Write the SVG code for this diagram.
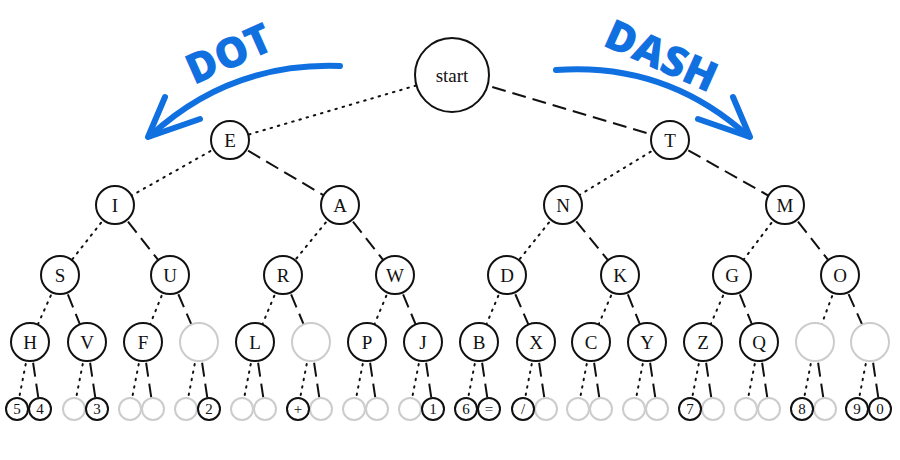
<svg xmlns="http://www.w3.org/2000/svg" width="900" height="460" viewBox="0 0 900 460">
<style>
.dot{stroke:#111;stroke-width:2;stroke-dasharray:1.5 6;stroke-linecap:round;fill:none}
.dash{stroke:#111;stroke-width:2;stroke-dasharray:14 7;fill:none}
.n{fill:#fff;stroke:#111;stroke-width:2}
.g{fill:#fff;stroke:#ccc;stroke-width:2}
text{font-family:"Liberation Serif",serif;font-size:19px;fill:#111;text-anchor:middle;dominant-baseline:central}
.s{font-size:15px}
.blue{stroke:#1170e0;stroke-width:6;fill:none;stroke-linecap:round;stroke-linejoin:round}
.lbl{font-family:"Open Sans","Liberation Sans",sans-serif;font-weight:800;font-size:42px;fill:#1170e0}
</style>
<g id="arrows">
<path class="blue" d="M340,66 Q230,62 150,136"/>
<path class="blue" d="M165,97 L148,137 L200,119"/>
<path class="blue" d="M556,70 Q666,62 748,136"/>
<path class="blue" d="M733,97 L750,137 L698,119"/>
<text class="lbl" x="228" y="52" transform="rotate(-24 228 52)">DOT</text>
<text class="lbl" x="662" y="54" transform="rotate(24 662 54)">DASH</text>
</g>
<g id="connectors">
<line class="dot" x1="452" y1="75" x2="230" y2="140"/><line class="dash" x1="452" y1="75" x2="670" y2="140"/>
<line class="dot" x1="230" y1="140" x2="115" y2="205"/><line class="dash" x1="230" y1="140" x2="340" y2="205"/>
<line class="dot" x1="670" y1="140" x2="563" y2="205"/><line class="dash" x1="670" y1="140" x2="785" y2="205"/>
<line class="dot" x1="115" y1="205" x2="60" y2="275"/><line class="dash" x1="115" y1="205" x2="170" y2="275"/>
<line class="dot" x1="340" y1="205" x2="283" y2="275"/><line class="dash" x1="340" y1="205" x2="395" y2="275"/>
<line class="dot" x1="563" y1="205" x2="507" y2="275"/><line class="dash" x1="563" y1="205" x2="620" y2="275"/>
<line class="dot" x1="785" y1="205" x2="732" y2="275"/><line class="dash" x1="785" y1="205" x2="840" y2="275"/>
<line class="dot" x1="60" y1="275" x2="30" y2="342"/><line class="dash" x1="60" y1="275" x2="87" y2="342"/>
<line class="dot" x1="170" y1="275" x2="143" y2="342"/><line class="dash" x1="170" y1="275" x2="199" y2="342"/>
<line class="dot" x1="283" y1="275" x2="255" y2="342"/><line class="dash" x1="283" y1="275" x2="311" y2="342"/>
<line class="dot" x1="395" y1="275" x2="367" y2="342"/><line class="dash" x1="395" y1="275" x2="423" y2="342"/>
<line class="dot" x1="507" y1="275" x2="479" y2="342"/><line class="dash" x1="507" y1="275" x2="536" y2="342"/>
<line class="dot" x1="620" y1="275" x2="591" y2="342"/><line class="dash" x1="620" y1="275" x2="647" y2="342"/>
<line class="dot" x1="732" y1="275" x2="703" y2="342"/><line class="dash" x1="732" y1="275" x2="759" y2="342"/>
<line class="dot" x1="840" y1="275" x2="815" y2="342"/><line class="dash" x1="840" y1="275" x2="870" y2="342"/>
<line class="dot" x1="30" y1="342" x2="17" y2="409"/><line class="dash" x1="30" y1="342" x2="40" y2="409"/>
<line class="dot" x1="87" y1="342" x2="74" y2="409"/><line class="dash" x1="87" y1="342" x2="97" y2="409"/>
<line class="dot" x1="143" y1="342" x2="130" y2="409"/><line class="dash" x1="143" y1="342" x2="153" y2="409"/>
<line class="dot" x1="199" y1="342" x2="186" y2="409"/><line class="dash" x1="199" y1="342" x2="209" y2="409"/>
<line class="dot" x1="255" y1="342" x2="242" y2="409"/><line class="dash" x1="255" y1="342" x2="265" y2="409"/>
<line class="dot" x1="311" y1="342" x2="298" y2="409"/><line class="dash" x1="311" y1="342" x2="321" y2="409"/>
<line class="dot" x1="367" y1="342" x2="354" y2="409"/><line class="dash" x1="367" y1="342" x2="377" y2="409"/>
<line class="dot" x1="423" y1="342" x2="410" y2="409"/><line class="dash" x1="423" y1="342" x2="433" y2="409"/>
<line class="dot" x1="479" y1="342" x2="466" y2="409"/><line class="dash" x1="479" y1="342" x2="489" y2="409"/>
<line class="dot" x1="536" y1="342" x2="523" y2="409"/><line class="dash" x1="536" y1="342" x2="546" y2="409"/>
<line class="dot" x1="591" y1="342" x2="578" y2="409"/><line class="dash" x1="591" y1="342" x2="601" y2="409"/>
<line class="dot" x1="647" y1="342" x2="634" y2="409"/><line class="dash" x1="647" y1="342" x2="657" y2="409"/>
<line class="dot" x1="703" y1="342" x2="690" y2="409"/><line class="dash" x1="703" y1="342" x2="713" y2="409"/>
<line class="dot" x1="759" y1="342" x2="746" y2="409"/><line class="dash" x1="759" y1="342" x2="769" y2="409"/>
<line class="dot" x1="815" y1="342" x2="802" y2="409"/><line class="dash" x1="815" y1="342" x2="825" y2="409"/>
<line class="dot" x1="870" y1="342" x2="857" y2="409"/><line class="dash" x1="870" y1="342" x2="880" y2="409"/>
</g>
<g id="start"><circle class="n" cx="452" cy="75" r="37"/><text x="452" y="75">start</text></g>
<g id="E"><circle class="n" cx="230" cy="140" r="19"/><text x="230" y="140">E</text></g>
<g id="T"><circle class="n" cx="670" cy="140" r="19"/><text x="670" y="140">T</text></g>
<g id="I"><circle class="n" cx="115" cy="205" r="19"/><text x="115" y="205">I</text></g>
<g id="A"><circle class="n" cx="340" cy="205" r="19"/><text x="340" y="205">A</text></g>
<g id="N"><circle class="n" cx="563" cy="205" r="19"/><text x="563" y="205">N</text></g>
<g id="M"><circle class="n" cx="785" cy="205" r="19"/><text x="785" y="205">M</text></g>
<g id="S"><circle class="n" cx="60" cy="275" r="19"/><text x="60" y="275">S</text></g>
<g id="U"><circle class="n" cx="170" cy="275" r="19"/><text x="170" y="275">U</text></g>
<g id="R"><circle class="n" cx="283" cy="275" r="19"/><text x="283" y="275">R</text></g>
<g id="W"><circle class="n" cx="395" cy="275" r="19"/><text x="395" y="275">W</text></g>
<g id="D"><circle class="n" cx="507" cy="275" r="19"/><text x="507" y="275">D</text></g>
<g id="K"><circle class="n" cx="620" cy="275" r="19"/><text x="620" y="275">K</text></g>
<g id="G"><circle class="n" cx="732" cy="275" r="19"/><text x="732" y="275">G</text></g>
<g id="O"><circle class="n" cx="840" cy="275" r="19"/><text x="840" y="275">O</text></g>
<g id="H"><circle class="n" cx="30" cy="342" r="19"/><text x="30" y="342">H</text></g>
<g id="V"><circle class="n" cx="87" cy="342" r="19"/><text x="87" y="342">V</text></g>
<g id="F"><circle class="n" cx="143" cy="342" r="19"/><text x="143" y="342">F</text></g>
<g id="UU"><circle class="g" cx="199" cy="342" r="19"/></g>
<g id="L"><circle class="n" cx="255" cy="342" r="19"/><text x="255" y="342">L</text></g>
<g id="RU"><circle class="g" cx="311" cy="342" r="19"/></g>
<g id="P"><circle class="n" cx="367" cy="342" r="19"/><text x="367" y="342">P</text></g>
<g id="J"><circle class="n" cx="423" cy="342" r="19"/><text x="423" y="342">J</text></g>
<g id="B"><circle class="n" cx="479" cy="342" r="19"/><text x="479" y="342">B</text></g>
<g id="X"><circle class="n" cx="536" cy="342" r="19"/><text x="536" y="342">X</text></g>
<g id="C"><circle class="n" cx="591" cy="342" r="19"/><text x="591" y="342">C</text></g>
<g id="Y"><circle class="n" cx="647" cy="342" r="19"/><text x="647" y="342">Y</text></g>
<g id="Z"><circle class="n" cx="703" cy="342" r="19"/><text x="703" y="342">Z</text></g>
<g id="Q"><circle class="n" cx="759" cy="342" r="19"/><text x="759" y="342">Q</text></g>
<g id="OE"><circle class="g" cx="815" cy="342" r="19"/></g>
<g id="OT"><circle class="g" cx="870" cy="342" r="19"/></g>
<g id="leaves">
<circle class="n" cx="17" cy="409" r="11"/><text class="s" x="17" y="409">5</text>
<circle class="n" cx="40" cy="409" r="11"/><text class="s" x="40" y="409">4</text>
<circle class="g" cx="74" cy="409" r="11"/>
<circle class="n" cx="97" cy="409" r="11"/><text class="s" x="97" y="409">3</text>
<circle class="g" cx="130" cy="409" r="11"/><circle class="g" cx="153" cy="409" r="11"/>
<circle class="g" cx="186" cy="409" r="11"/>
<circle class="n" cx="209" cy="409" r="11"/><text class="s" x="209" y="409">2</text>
<circle class="g" cx="242" cy="409" r="11"/><circle class="g" cx="265" cy="409" r="11"/>
<circle class="g" cx="321" cy="409" r="11"/>
<circle class="n" cx="298" cy="409" r="11"/><text class="s" x="298" y="409">+</text>
<circle class="g" cx="354" cy="409" r="11"/><circle class="g" cx="377" cy="409" r="11"/>
<circle class="g" cx="410" cy="409" r="11"/>
<circle class="n" cx="433" cy="409" r="11"/><text class="s" x="433" y="409">1</text>
<circle class="n" cx="466" cy="409" r="11"/><text class="s" x="466" y="409">6</text>
<circle class="n" cx="489" cy="409" r="11"/><text class="s" x="489" y="409">=</text>
<circle class="g" cx="546" cy="409" r="11"/>
<circle class="n" cx="523" cy="409" r="11"/><text class="s" x="523" y="409">/</text>
<circle class="g" cx="578" cy="409" r="11"/><circle class="g" cx="601" cy="409" r="11"/>
<circle class="g" cx="634" cy="409" r="11"/><circle class="g" cx="657" cy="409" r="11"/>
<circle class="g" cx="713" cy="409" r="11"/>
<circle class="n" cx="690" cy="409" r="11"/><text class="s" x="690" y="409">7</text>
<circle class="g" cx="746" cy="409" r="11"/><circle class="g" cx="769" cy="409" r="11"/>
<circle class="g" cx="825" cy="409" r="11"/>
<circle class="n" cx="802" cy="409" r="11"/><text class="s" x="802" y="409">8</text>
<circle class="n" cx="857" cy="409" r="11"/><text class="s" x="857" y="409">9</text>
<circle class="n" cx="880" cy="409" r="11"/><text class="s" x="880" y="409">0</text>
</g>
</svg>
